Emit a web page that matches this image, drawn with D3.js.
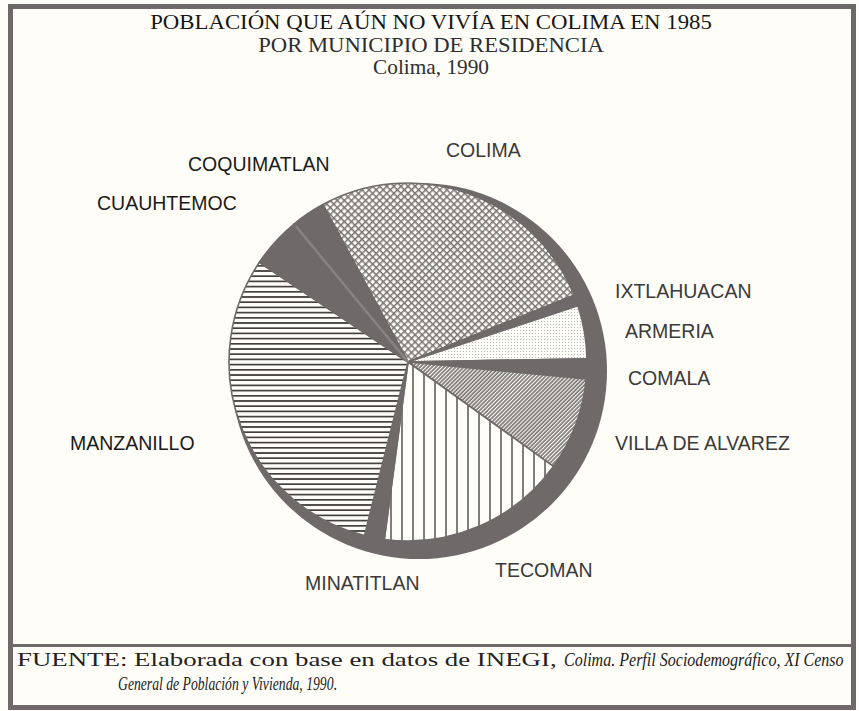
<!DOCTYPE html>
<html>
<head>
<meta charset="utf-8">
<script src="https://cdn.jsdelivr.net/npm/d3@7/dist/d3.min.js"></script>
<style>
  html, body { margin: 0; padding: 0; background: #fefdf8; }
  svg { display: block; }
</style>
</head>
<body>
<svg id="chart" width="859" height="711"></svg>
<script>
// ---------- DATA ----------
const municipios = ["COLIMA", "IXTLAHUACAN", "ARMERIA", "COMALA", "VILLA DE ALVAREZ",
                    "TECOMAN", "MINATITLAN", "MANZANILLO", "CUAUHTEMOC", "COQUIMATLAN"];
const porcentajes = [26.8, 1.0, 4.8, 1.8, 8.4, 17.2, 1.8, 30.5, 4.6, 3.1];

const titleLines = ["POBLACIÓN QUE AÚN NO VIVÍA EN COLIMA EN 1985",
                    "POR MUNICIPIO  DE RESIDENCIA",
                    "Colima, 1990"];
const fuenteRoman = "FUENTE: Elaborada con base en datos de INEGI, ";
const fuenteItalic1 = "Colima. Perfil Sociodemográfico, XI Censo";
const fuenteItalic2 = "General de Población y Vivienda, 1990";

// ---------- STYLE / LAYOUT ----------
const fillKind = {
  "COLIMA": "cross", "IXTLAHUACAN": "solid", "ARMERIA": "dots", "COMALA": "solid",
  "VILLA DE ALVAREZ": "diag", "TECOMAN": "vert", "MINATITLAN": "solid",
  "MANZANILLO": "horiz", "CUAUHTEMOC": "solid", "COQUIMATLAN": "solid"
};
const labelLayout = {
  "COLIMA": [446, 157, "#3a3a3a"],
  "COQUIMATLAN": [188, 171, "#1a1a1a"],
  "CUAUHTEMOC": [97, 210, "#1a1a1a"],
  "IXTLAHUACAN": [615, 298, "#3a3a3a"],
  "ARMERIA": [625, 338, "#3a3a3a"],
  "COMALA": [628, 385, "#3a3a3a"],
  "VILLA DE ALVAREZ": [615, 450, "#3a3a3a"],
  "MANZANILLO": [70, 450, "#1a1a1a"],
  "MINATITLAN": [305, 590, "#3a3a3a"],
  "TECOMAN": [495, 577, "#3a3a3a"]
};
const DARK = "#6f6a69";
const BG = "#fefdf8";
const startDeg = -28.4;

const svg = d3.select("#chart");
const defs = svg.append("defs");

// horizontally fit a text element to a target width via transform
function fitText(sel, x, y, target) {
  const w = sel.node().getComputedTextLength();
  const s = target / w;
  sel.attr("x", 0).attr("y", 0).attr("transform", `translate(${x},${y}) scale(${s},1)`);
}

// patterns
function pat(id, w, h, rot) {
  const p = defs.append("pattern").attr("id", id).attr("patternUnits", "userSpaceOnUse")
    .attr("width", w).attr("height", h);
  if (rot) p.attr("patternTransform", "rotate(" + rot + ")");
  p.append("rect").attr("width", w).attr("height", h).attr("fill", BG);
  return p;
}
let p = pat("cross", 5, 5, 45);
p.append("line").attr("x1", 0).attr("y1", 0.7).attr("x2", 5).attr("y2", 0.7).attr("stroke", "#777373").attr("stroke-width", 1.6);
p.append("line").attr("x1", 0.7).attr("y1", 0).attr("x2", 0.7).attr("y2", 5).attr("stroke", "#777373").attr("stroke-width", 1.6);

p = pat("dots", 3, 3, 0);
p.append("circle").attr("cx", 1.5).attr("cy", 1.5).attr("r", 0.55).attr("fill", "#b0acab");

p = pat("diag", 2.8, 3, 45);
p.append("line").attr("x1", 1).attr("y1", 0).attr("x2", 1).attr("y2", 3).attr("stroke", "#6a6666").attr("stroke-width", 1.5);

p = pat("vert", 11, 10, 0);
p.append("line").attr("x1", 5).attr("y1", 0).attr("x2", 5).attr("y2", 10).attr("stroke", "#4a4646").attr("stroke-width", 1.4);

p = pat("horiz", 10, 5.2, 0);
p.append("line").attr("x1", 0).attr("y1", 2.6).attr("x2", 10).attr("y2", 2.6).attr("stroke", "#353131").attr("stroke-width", 1.6);

function fillFor(name) {
  const k = fillKind[name];
  return k === "solid" ? DARK : "url(#" + k + ")";
}

// frame
svg.append("rect").attr("x", 0).attr("y", 0).attr("width", 859).attr("height", 711).attr("fill", BG);
svg.append("rect").attr("x", 10.5).attr("y", 6.5).attr("width", 843).attr("height", 701)
  .attr("fill", "none").attr("stroke", DARK).attr("stroke-width", 5);
svg.append("line").attr("x1", 10).attr("x2", 854).attr("y1", 645.5).attr("y2", 645.5)
  .attr("stroke", DARK).attr("stroke-width", 3);

// title
const serif = "'Liberation Serif', 'DejaVu Serif', serif";
const titleSizes = [22, 22, 21];
const titleY = [29, 52, 74];
const titleLen = [562, 346, 116];
titleLines.forEach((t, i) => {
  const tx = svg.append("text").attr("text-anchor", "middle")
    .attr("font-family", serif)
    .attr("font-size", titleSizes[i]).attr("fill", i === 0 ? "#161616" : "#2e2e2e")
    .text(t);
  fitText(tx, 431, titleY[i], titleLen[i]);
});

// pie
const pie = d3.pie().sort(null).value(d => d.v)
  .startAngle(startDeg * Math.PI / 180).endAngle(startDeg * Math.PI / 180 + 2 * Math.PI);
const data = municipios.map((m, i) => ({ name: m, v: porcentajes[i] }));
const arcs = pie(data);

// shadow disc
svg.append("circle").attr("cx", 419).attr("cy", 371).attr("r", 188).attr("fill", DARK);

const arc = d3.arc().innerRadius(0).outerRadius(179);
const g = svg.append("g").attr("transform", "translate(408,362)");
g.selectAll("path").data(arcs).join("path")
  .attr("d", arc)
  .attr("fill", d => fillFor(d.data.name))
  .attr("stroke", DARK).attr("stroke-width", 1.6).attr("stroke-linejoin", "round");

// light seam between CUAUHTEMOC and COQUIMATLAN
const seam = arcs.find(a => a.data.name === "COQUIMATLAN").startAngle;
g.append("line").attr("x1", 0).attr("y1", 0)
  .attr("x2", 176 * Math.sin(seam)).attr("y2", -176 * Math.cos(seam))
  .attr("stroke", "#8f8a89").attr("stroke-width", 2.5).attr("opacity", 0.8);

// labels
svg.append("g").selectAll("text").data(arcs).join("text")
  .attr("x", d => labelLayout[d.data.name][0])
  .attr("y", d => labelLayout[d.data.name][1])
  .attr("fill", d => labelLayout[d.data.name][2])
  .attr("font-family", "'Liberation Sans', Arial, sans-serif")
  .attr("font-size", 19.5)
  .text(d => d.data.name);

// footer
const r1 = svg.append("text").attr("font-family", serif)
  .attr("font-size", 19.5).attr("fill", "#222").text(fuenteRoman);
fitText(r1, 17, 666, 540);
const i1 = svg.append("text").attr("font-family", serif)
  .attr("font-size", 18.5).attr("font-style", "italic").attr("fill", "#222").text(fuenteItalic1);
fitText(i1, 564, 666, 280);
const f2 = svg.append("text").attr("font-family", serif)
  .attr("font-size", 18.5).attr("fill", "#222");
f2.append("tspan").attr("font-style", "italic").text(fuenteItalic2);
f2.append("tspan").text(".");
fitText(f2, 118, 690, 219);
</script>
</body>
</html>
